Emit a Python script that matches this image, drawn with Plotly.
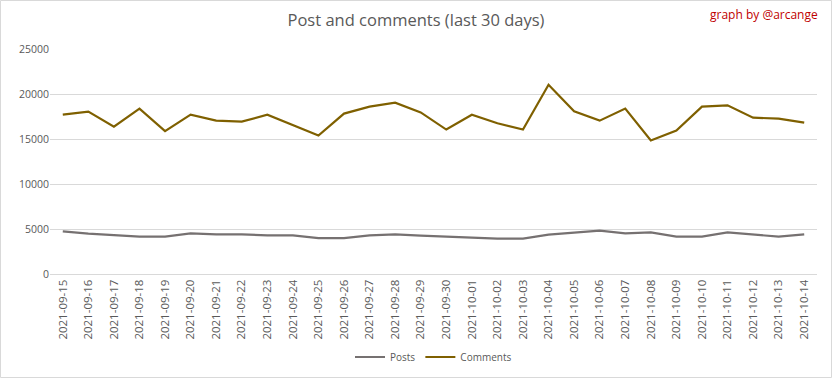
import plotly.graph_objects as go

dates = ["2021-09-15","2021-09-16","2021-09-17","2021-09-18","2021-09-19","2021-09-20",
         "2021-09-21","2021-09-22","2021-09-23","2021-09-24","2021-09-25","2021-09-26",
         "2021-09-27","2021-09-28","2021-09-29","2021-09-30","2021-10-01","2021-10-02",
         "2021-10-03","2021-10-04","2021-10-05","2021-10-06","2021-10-07","2021-10-08",
         "2021-10-09","2021-10-10","2021-10-11","2021-10-12","2021-10-13","2021-10-14"]

posts = [4740, 4480, 4330, 4150, 4150, 4520, 4410, 4410, 4300, 4300, 3980, 3980,
         4300, 4410, 4260, 4150, 4040, 3940, 3940, 4370, 4590, 4810, 4520, 4630,
         4150, 4150, 4630, 4410, 4150, 4410]

comments = [17700, 18050, 16380, 18380, 15870, 17700, 17040, 16930, 17700, 16570, 15390, 17820,
            18600, 19040, 17960, 16050, 17700, 16750, 16050, 21030, 18080, 17040, 18380, 14830,
            15940, 18600, 18740, 17370, 17260, 16820]

yticks = [0, 5000, 10000, 15000, 20000, 25000]

font_family = "Open Sans, Lato, sans-serif"

fig = go.Figure()
fig.add_trace(go.Scatter(x=dates, y=posts, mode="lines", name="Posts",
                         line=dict(color="#767171", width=2.2)))
fig.add_trace(go.Scatter(x=dates, y=comments, mode="lines", name="Comments",
                         line=dict(color="#7F6000", width=2.2)))

L, R, T, B = 50, 15, 49, 104
W, H = 832, 378
pw, ph = W - L - R, H - T - B

fig.update_layout(
    width=W, height=H,
    margin=dict(l=L, r=R, t=T, b=B, autoexpand=False),
    paper_bgcolor="white", plot_bgcolor="white",
    font=dict(family=font_family, color="#595959", size=11),
    title=dict(text="Post and comments (last 30 days)", x=0.5, xanchor="center",
               y=1 - 20 / H, yanchor="middle",
               font=dict(size=16.5, color="#595959", family=font_family)),
    showlegend=True,
    legend=dict(orientation="h", x=0.5, xanchor="center", y=(274 - 357) / ph, yanchor="middle",
                font=dict(size=10, color="#595959"), itemwidth=30, tracegroupgap=0),
    xaxis=dict(type="category", tickangle=-90, showgrid=False, showline=True, automargin=False,
               linecolor="#D9D9D9", linewidth=1, ticks="", tickfont=dict(size=11.5, color="#595959"),
               range=[-0.5, len(dates) - 0.5]),
    yaxis=dict(range=[0, 25000], tickvals=yticks, ticktext=[str(v) for v in yticks], automargin=False,
               showgrid=True, gridcolor="#D9D9D9", gridwidth=1, zeroline=False,
               showline=False, ticks="", tickfont=dict(size=10.5, color="#595959")),
    annotations=[dict(text="graph by @arcange", xref="paper", yref="paper",
                      x=(820 - L) / pw, xanchor="right", y=(274 - 15) / ph, yanchor="middle",
                      showarrow=False, font=dict(size=12, color="#C00000", family=font_family))],
    shapes=[dict(type="rect", xref="paper", yref="paper",
                 x0=(0.5 - L) / pw, x1=(W - 0.5 - L) / pw,
                 y0=(274 - (H - 0.5)) / ph, y1=(274 - 0.5) / ph,
                 line=dict(color="#D9D9D9", width=1), layer="below")],
)

fig.write_html("out.html", config={"displayModeBar": False},
               post_script="document.body.style.margin='0';document.body.style.overflow='hidden';")
